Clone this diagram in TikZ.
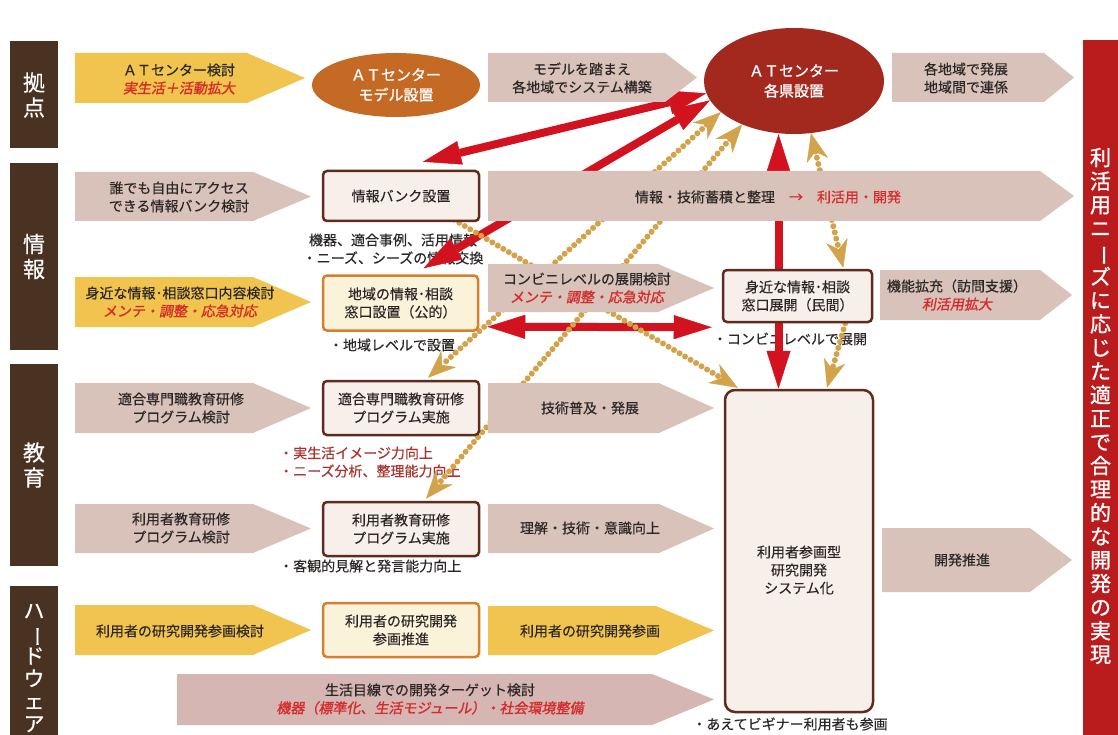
\documentclass[tikz,border=0pt]{standalone}
\usepackage{fontspec}
\usepackage{graphicx}
\setmainfont{Noto Sans CJK JP}[FakeBold=0.3]
\newfontfamily\redfont[FakeSlant=0.18,FakeBold=1.3]{Noto Sans CJK JP}
\newfontfamily\bfont[FakeBold=1.0]{Noto Sans CJK JP}
\usetikzlibrary{arrows.meta,shapes.geometric,calc}
\pgfdeclarelayer{txt}\pgfdeclarelayer{conn}\pgfdeclarelayer{shp}
\pgfsetlayers{txt,conn,shp,main}
\definecolor{catb}{HTML}{4A3222}
\definecolor{cyel}{HTML}{F0C44E}
\definecolor{cpink}{HTML}{D9C2BA}
\definecolor{cpinkb}{HTML}{D5B6B2}
\definecolor{corange}{HTML}{C56A24}
\definecolor{cdred}{HTML}{A3291F}
\definecolor{cbar}{HTML}{BA1C1E}
\definecolor{ctxtred}{HTML}{D42A2A}
\definecolor{cbord}{HTML}{5E2B1C}
\definecolor{cboxf}{HTML}{F7EFEA}
\definecolor{cobord}{HTML}{D4802E}
\definecolor{cobox}{HTML}{FBF2DA}
\definecolor{cred}{HTML}{D3121F}
\definecolor{cgold}{HTML}{D2A34B}
\definecolor{ctext}{HTML}{2B2626}
\definecolor{csub}{HTML}{A8322C}
\newcommand\parrow[6]{\fill[#6] (#1,#2) -- ({#3-#5},#2) -- (#3,{(#2+#4)/2}) -- ({#3-#5},#4) -- (#1,#4) -- cycle;}
\newcommand\rit[1]{{\redfont\color{ctxtred}#1}}
\newcommand\vchoon{\rotatebox[origin=c]{-90}{ー}}
\begin{document}
\begin{tikzpicture}[x=1pt,y=-1pt,
  base/.style={font=\fontsize{14}{18}\selectfont, text=ctext, align=center, inner sep=0pt},
  cat/.style={fill=catb, text=white, font=\fontsize{22}{25}\selectfont, align=center, inner sep=0pt, minimum width=48pt},
  dbox/.style={base, draw=cbord, line width=2.5pt, fill=cboxf, rounded corners=4pt},
  obox/.style={base, draw=cobord, line width=2.5pt, fill=cobox, rounded corners=4pt},
  ell/.style={ellipse, inner sep=0pt, text=white, align=center, font=\bfont\fontsize{15}{20}\selectfont},
  redl/.style={draw=cred, line width=8pt},
  goldl/.style={draw=cgold, line width=6pt, line cap=round, dash pattern=on 0pt off 6.4pt},
  rt/.tip={Triangle[length=38pt,width=24pt,line width=0.5pt]},
  gt/.tip={Stealth[length=28pt,width=22pt,inset=9pt,line width=0.5pt]}]
\useasboundingbox (0,0) rectangle (1118,735);
\begin{pgfonlayer}{txt}
\fill[white] (0,0) rectangle (1118,735);
\node[base] (s1) at (393,249) {機器、適合事例、活用情報\\・ニーズ、シーズの情報交換};
\node[base] (s2) at (392,345) {・地域レベルで設置};
\node[base] (s3) at (790,339) {・コンビニレベルで展開};
\node[base, anchor=west, text=csub] (s4) at (279,453) {・実生活イメージ力向上};
\node[base, anchor=west, text=csub] (s5) at (279,471) {・ニーズ分析、整理能力向上};
\node[base, anchor=west] (s6) at (279,566) {・客観的見解と発言能力向上};
\node[base] (s7) at (790,724) {・あえてビギナー利用者も参画};
\end{pgfonlayer}
% category labels
\node[cat, minimum height=107pt] (c1) at (34,95) {拠\\点};
\node[cat, minimum height=187pt] (c2) at (34,256.5) {情\\報};
\node[cat, minimum height=202pt] (c3) at (34,465) {教\\育};
\node[cat, minimum height=149pt] (c4) at (34,660.5) {};
\node[base, text=white, font=\fontsize{21}{22.6}\selectfont] (c4t) at (34,668) {ハ\\\vchoon\\ド\\ウ\\ェ\\ア};
% right bar
\node[fill=cbar, minimum width=35pt, minimum height=695pt, inner sep=0pt] (bar) at (1100.5,387.5) {};
\node[base, text=white, font=\bfont\fontsize{21}{23.6}\selectfont] (bart) at (1100.5,406) {利\\活\\用\\ニ\\\vchoon\\ズ\\に\\応\\じ\\た\\適\\正\\で\\合\\理\\的\\な\\開\\発\\の\\実\\現};
% arrow shapes
\begin{pgfonlayer}{shp}
\parrow{75}{53}{305}{103}{58}{cyel}
\parrow{488}{53}{697}{102}{32}{cpink}
\parrow{892}{53}{1074}{102}{30}{cpink}
\parrow{75}{172}{311}{221}{58}{cpink}
\parrow{488}{171}{1074}{221}{34}{cpink}
\parrow{75}{277}{311}{327}{58}{cyel}
\parrow{488}{264}{714}{312}{56}{cpink}
\parrow{880}{270}{1072}{320}{32}{cpink}
\parrow{75}{383}{311}{433}{58}{cpink}
\parrow{488}{383}{714}{433}{55}{cpink}
\parrow{75}{504}{311}{553}{58}{cpink}
\parrow{488}{504}{714}{553}{55}{cpink}
\parrow{882}{528}{1072}{592}{42}{cpink}
\parrow{75}{605}{311}{655}{58}{cyel}
\parrow{488}{606}{714}{655}{58}{cyel}
\parrow{177}{674}{714}{725}{62}{cpinkb}
\end{pgfonlayer}
% arrow texts
\node[base] (ta1) at (179,79) {ＡＴセンター検討\\\rit{実生活＋活動拡大}};
\node[base] (ta2) at (582,78) {モデルを踏まえ\\各地域でシステム構築};
\node[base] (ta3) at (966,78) {各地域で発展\\地域間で連係};
\node[base] (tb1) at (179,197) {誰でも自由にアクセス\\できる情報バンク検討};
\node[base] (tb2) at (768,197) {情報・技術蓄積と整理\quad{\color{ctxtred}→\quad 利活用・開発}};
\node[base] (tc1) at (180,302) {身近な情報･相談窓口内容検討\\\rit{メンテ・調整・応急対応}};
\node[base] (tc2) at (587,288) {コンビニレベルの展開検討\\\rit{メンテ・調整・応急対応}};
\node[base] (tc3) at (957,295) {機能拡充（訪問支援）\\\rit{利活用拡大}};
\node[base] (td1) at (181,408) {適合専門職教育研修\\プログラム検討};
\node[base] (td2) at (590,408) {技術普及・発展};
\node[base] (te1) at (181,528) {利用者教育研修\\プログラム検討};
\node[base] (te2) at (590,528) {理解・技術・意識向上};
\node[base] (te3) at (962,560) {開発推進};
\node[base] (tf1) at (180,631) {利用者の研究開発参画検討};
\node[base] (tf2) at (590,631) {利用者の研究開発参画};
\node[base] (tg1) at (430,699) {生活目線での開発ターゲット検討\\\rit{機器（標準化、生活モジュール）・社会環境整備}};
% ellipses
\node[ell, fill=corange, minimum width=168pt, minimum height=64pt] (model) at (396,85) {ＡＴセンター\\モデル設置};
\node[ell, fill=cdred, minimum width=180pt, minimum height=106pt] (AT) at (794,81) {ＡＴセンター\\各県設置};
% boxes
\node[dbox, minimum width=156pt, minimum height=50pt] (bank) at (401,196) {情報バンク設置};
\node[obox, minimum width=155pt, minimum height=55pt] (chiiki) at (400.5,303) {地域の情報･相談\\窓口設置（公的）};
\node[dbox, minimum width=149pt, minimum height=52pt] (minkan) at (797.5,296) {身近な情報･相談\\窓口展開（民間）};
\node[dbox, minimum width=156pt, minimum height=54pt] (tekigo) at (401,408) {適合専門職教育研修\\プログラム実施};
\node[dbox, minimum width=156pt, minimum height=54pt] (riyou) at (401,529) {利用者教育研修\\プログラム実施};
\node[obox, minimum width=156pt, minimum height=54pt] (sankaku) at (401,630) {利用者の研究開発\\参画推進};
\node[dbox, minimum width=148pt, minimum height=322pt, rounded corners=10pt] (big) at (799,551) {};
\node[base] (bigt) at (799,570) {利用者参画型\\研究開発\\システム化};
% connectors
\begin{pgfonlayer}{conn}
\draw[redl, arrows={rt-rt}] (AT.188) -- ($(bank.north)+(22,-8)$);
\draw[redl, arrows={rt-rt}] (AT.193) -- ($(chiiki.north)+(23,-6)$);
\draw[redl, arrows={rt-rt}] ($(chiiki.south east)+(8,-5)$) -- ($(minkan.south west)+(-10,4)$);
\coordinate (v1) at ($(minkan.north)+(-19,0)$);
\draw[redl, arrows={-rt}] (v1) -- (v1 |- AT.south);
\coordinate (v2) at ($(minkan.south)+(-19,0)$);
\draw[redl, arrows={-rt}] (v2) -- (v2 |- big.north);
\draw[goldl, arrows={gt-gt}] (AT.203) -- ($(tekigo.north)+(27,-2)$);
\draw[goldl, arrows={gt-gt}] (AT.220) -- ($(riyou.north)+(25,-2)$);
\draw[goldl, arrows={-gt}] ($(bank.south east)+(-32,-6)$) -- ($(big.north west)+(14,-1)$);
\draw[goldl, arrows={gt-gt}] (AT.288) -- ($(minkan.north east)+(-30,-1)$);
\draw[goldl, arrows={-gt}] ($(minkan.south east)+(-28,0)$) -- ($(big.north)+(28,-1)$);
\end{pgfonlayer}
\end{tikzpicture}
\end{document}
